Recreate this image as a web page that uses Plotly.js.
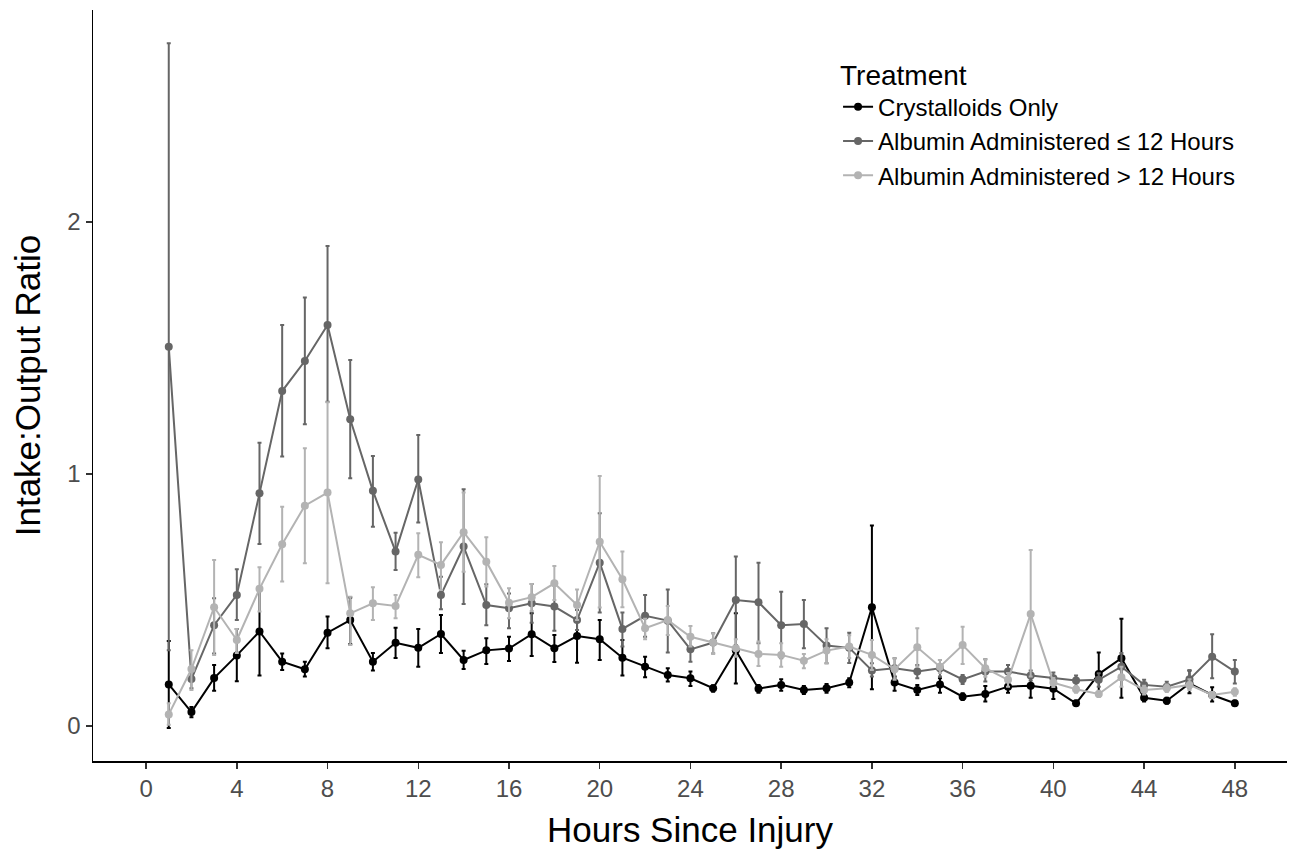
<!DOCTYPE html>
<html>
<head>
<meta charset="utf-8">
<script src="https://cdn.plot.ly/plotly-3.0.1.min.js"></script>
<style>html,body{margin:0;padding:0;background:#fff}#chart{width:1293px;height:855px}</style>
</head>
<body>
<div id="chart"></div>
<script>
const hours = [1,2,3,4,5,6,7,8,9,10,11,12,13,14,15,16,17,18,19,20,21,22,23,24,25,26,27,28,29,30,31,32,33,34,35,36,37,38,39,40,41,42,43,44,45,46,47,48];
const seriesNames = ["Crystalloids Only", "Albumin Administered \u2264 12 Hours", "Albumin Administered > 12 Hours"];

const crysMean = [0.165,0.055,0.19,0.28,0.375,0.255,0.225,0.37,0.42,0.255,0.33,0.31,0.365,0.262,0.30,0.307,0.364,0.308,0.357,0.344,0.271,0.235,0.202,0.189,0.15,0.30,0.148,0.163,0.143,0.15,0.172,0.471,0.172,0.143,0.165,0.116,0.127,0.156,0.16,0.148,0.09,0.206,0.269,0.112,0.10,0.169,0.123,0.09];
const crysUpper = [0.337,0.075,0.242,0.385,0.55,0.288,0.255,0.434,0.51,0.29,0.39,0.385,0.44,0.298,0.348,0.354,0.447,0.361,0.42,0.42,0.341,0.275,0.229,0.216,0.162,0.447,0.163,0.185,0.159,0.167,0.189,0.795,0.196,0.163,0.189,0.13,0.159,0.176,0.202,0.176,0.10,0.292,0.425,0.13,0.112,0.22,0.154,0.10];
const crysLower = [-0.008,0.035,0.14,0.177,0.2,0.222,0.196,0.308,0.324,0.22,0.27,0.235,0.29,0.226,0.246,0.258,0.278,0.254,0.251,0.262,0.2,0.193,0.176,0.159,0.136,0.169,0.132,0.14,0.127,0.132,0.154,0.146,0.14,0.123,0.132,0.103,0.097,0.132,0.112,0.107,0.08,0.13,0.112,0.097,0.088,0.13,0.097,0.08];

const earlyMean = [1.505,0.186,0.40,0.52,0.923,1.329,1.448,1.591,1.217,0.933,0.692,0.978,0.52,0.712,0.48,0.467,0.487,0.474,0.42,0.648,0.385,0.437,0.418,0.304,0.331,0.50,0.491,0.40,0.405,0.319,0.31,0.22,0.229,0.216,0.229,0.185,0.216,0.216,0.2,0.189,0.18,0.183,0.235,0.163,0.156,0.185,0.275,0.216];
const earlyUpper = [2.709,0.215,0.507,0.622,1.124,1.591,1.70,1.905,1.452,1.071,0.767,1.155,0.592,0.939,0.562,0.526,0.563,0.566,0.46,0.844,0.45,0.52,0.542,0.354,0.368,0.672,0.648,0.533,0.5,0.388,0.37,0.249,0.269,0.242,0.262,0.202,0.265,0.242,0.22,0.212,0.2,0.209,0.29,0.183,0.175,0.22,0.364,0.262];
const earlyLower = [0.30,0.15,0.288,0.42,0.722,1.069,1.197,1.287,0.983,0.791,0.619,0.807,0.463,0.484,0.40,0.388,0.41,0.378,0.381,0.45,0.315,0.354,0.292,0.255,0.288,0.321,0.328,0.269,0.308,0.249,0.25,0.196,0.189,0.189,0.196,0.167,0.176,0.19,0.18,0.166,0.16,0.156,0.183,0.143,0.14,0.15,0.189,0.169];

const lateMean = [0.046,0.226,0.471,0.341,0.544,0.721,0.874,0.926,0.447,0.487,0.476,0.679,0.639,0.769,0.652,0.489,0.511,0.566,0.48,0.731,0.582,0.388,0.42,0.354,0.331,0.308,0.286,0.282,0.259,0.299,0.315,0.282,0.225,0.312,0.235,0.321,0.229,0.183,0.444,0.172,0.146,0.127,0.193,0.143,0.15,0.163,0.123,0.136];
const lateUpper = [0.09,0.30,0.659,0.385,0.63,0.87,1.102,1.285,0.513,0.55,0.52,0.765,0.729,0.926,0.749,0.546,0.563,0.635,0.542,0.992,0.692,0.425,0.476,0.397,0.368,0.344,0.335,0.328,0.286,0.344,0.36,0.341,0.269,0.388,0.262,0.394,0.265,0.21,0.698,0.19,0.16,0.14,0.235,0.16,0.165,0.185,0.135,0.15];
const lateLower = [0.005,0.143,0.282,0.29,0.454,0.573,0.646,0.566,0.321,0.42,0.427,0.59,0.54,0.612,0.553,0.427,0.456,0.5,0.42,0.47,0.471,0.344,0.361,0.315,0.288,0.275,0.238,0.235,0.229,0.249,0.27,0.222,0.183,0.235,0.21,0.246,0.195,0.156,0.196,0.155,0.132,0.115,0.156,0.125,0.135,0.143,0.11,0.12];

const xTicks = [0,4,8,12,16,20,24,28,32,36,40,44,48];
const yTicks = [0,1,2];

const colors = ["#000000", "#666666", "#b3b3b3"];
const means = [crysMean, earlyMean, lateMean];
const uppers = [crysUpper, earlyUpper, lateUpper];
const lowers = [crysLower, earlyLower, lateLower];

const traces = seriesNames.map((name, i) => ({
  type: "scatter",
  mode: "lines+markers",
  name: name,
  x: hours,
  y: means[i],
  line: {color: colors[i], width: 2},
  marker: {color: colors[i], size: 8},
  error_y: {
    type: "data",
    symmetric: false,
    array: uppers[i].map((u, k) => u - means[i][k]),
    arrayminus: lowers[i].map((l, k) => means[i][k] - l),
    color: colors[i],
    thickness: 2,
    width: 2
  }
}));

const font = "Liberation Sans, Arial, sans-serif";
const layout = {
  width: 1293,
  height: 855,
  paper_bgcolor: "#ffffff",
  plot_bgcolor: "#ffffff",
  margin: {l: 93, r: 6, t: 10, b: 94},
  font: {family: font, color: "#000"},
  showlegend: true,
  legend: {
    x: 0.624, y: 0.949, xanchor: "left", yanchor: "top",
    title: {text: "Treatment", font: {size: 28, color: "#000"}, side: "top"},
    font: {size: 24, color: "#000"},
    bgcolor: "rgba(0,0,0,0)",
    itemwidth: 30
  },
  xaxis: {
    range: [-2.34, 50.3],
    tickvals: xTicks,
    ticktext: xTicks.map(String),
    showgrid: false,
    zeroline: false,
    showline: true,
    linecolor: "#000",
    linewidth: 1.5,
    ticks: "outside",
    ticklen: 6,
    tickcolor: "#333",
    tickwidth: 1.5,
    tickfont: {size: 24, color: "#4d4d4d"},
    title: {text: "Hours Since Injury", font: {size: 35, color: "#000"}, standoff: 16}
  },
  yaxis: {
    range: [-0.139, 2.841],
    tickvals: yTicks,
    ticktext: yTicks.map(String),
    showgrid: false,
    zeroline: false,
    showline: true,
    linecolor: "#000",
    linewidth: 1.5,
    ticks: "outside",
    ticklen: 6,
    tickcolor: "#333",
    tickwidth: 1.5,
    tickfont: {size: 24, color: "#4d4d4d"},
    title: {text: "Intake:Output Ratio", font: {size: 35, color: "#000"}, standoff: 16}
  }
};

Plotly.newPlot("chart", traces, layout, {displayModeBar: false, staticPlot: true});
</script>
</body>
</html>
